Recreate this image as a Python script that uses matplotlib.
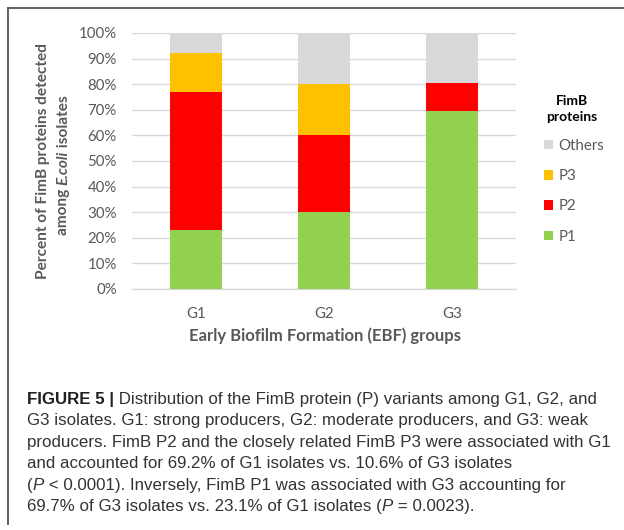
import matplotlib
matplotlib.use("Agg")
import matplotlib.pyplot as plt
from matplotlib.lines import Line2D
import numpy as np

# ---------------- data ----------------
groups = ["G1", "G2", "G3"]
p1 = [23.1, 30.0, 69.7]
p2 = [53.8, 30.0, 10.6]
p3 = [15.4, 20.0, 0.0]
others = [7.7, 20.0, 19.7]
series_names = ["P1", "P2", "P3", "Others"]
series_colors = ["#92d050", "#ff0000", "#ffc000", "#d9d9d9"]
yticks = [0, 10, 20, 30, 40, 50, 60, 70, 80, 90, 100]

W, H = 624, 530
fig = plt.figure(figsize=(W / 100, H / 100), dpi=100)
fig.patch.set_facecolor("white")

chart_font = ["Lato", "DejaVu Sans"]
grey = "#595959"
renderer = fig.canvas.get_renderer()

ax = fig.add_axes([132 / W, 1 - 289 / H, 384 / W, 256 / H])
x = np.arange(len(groups))
bottom = np.zeros(len(groups))
handles = []
for vals, name, col in zip([p1, p2, p3, others], series_names, series_colors):
    b = ax.bar(x, vals, 0.40, bottom=bottom, color=col, label=name, zorder=3)
    handles.append(b)
    bottom += np.array(vals)

ax.set_xlim(-0.5, 2.5)
ax.set_ylim(0, 100)
ax.set_yticks(yticks)
ax.set_yticklabels([f"{t}%" for t in yticks], family=chart_font, fontsize=10.8, color=grey)
ax.set_xticks(x)
ax.set_xticklabels(groups, family=chart_font, fontsize=10.8, color=grey)
ax.tick_params(axis="both", length=0)
ax.tick_params(axis="y", pad=11)
ax.tick_params(axis="x", pad=13)
ax.grid(axis="y", color="#d9d9d9", linewidth=1.0, zorder=0)
for s in ["left", "right", "top"]:
    ax.spines[s].set_visible(False)
ax.spines["bottom"].set_color("#d9d9d9")
ax.spines["bottom"].set_linewidth(1.0)

# axis labels
fig.text(325 / W, 1 - 336 / H, "Early Biofilm Formation (EBF) groups",
         family=chart_font, fontsize=12, fontweight="bold", color=grey,
         ha="center", va="center")

fig.text(43 / W, 1 - 161 / H, "Percent of FimB proteins detected",
         family=chart_font, fontsize=11.1, fontweight="bold", color=grey,
         rotation=90, ha="center", va="center")

# second y-label line built from runs (italic species name)
runs2 = [("among ", "normal"), ("E.coli", "italic"), (" isolates", "normal")]
objs = []
for txt, st in runs2:
    t = fig.text(0, 0, txt, family=chart_font, fontsize=11.1, fontweight="bold",
                 style=st, color=grey, rotation=90, ha="left", va="baseline",
                 rotation_mode="anchor")
    objs.append(t)
heights = [t.get_window_extent(renderer=renderer).height for t in objs]
total = sum(heights)
ypos = 165 + total / 2  # pixel from top, start at bottom
xline = 67.5
for t, h in zip(objs, heights):
    t.set_position((xline / W, 1 - ypos / H))
    ypos -= h

# legend
fig.text(572 / W, 1 - 109 / H, "FimB\nproteins", family=chart_font, fontsize=10,
         fontweight="bold", color="black", ha="center", va="center", linespacing=1.4)
leg = ax.legend(handles[::-1], series_names[::-1], loc="upper left",
                bbox_to_anchor=(544 / W, 1 - 139 / H), bbox_transform=fig.transFigure,
                frameon=False, prop={"family": chart_font, "size": 10.8},
                handlelength=0.6, handleheight=0.6, handletextpad=0.35,
                labelspacing=1.08, borderpad=0, borderaxespad=0)
for t in leg.get_texts():
    t.set_color(grey)

# frame lines (top and left)
fig.add_artist(Line2D([8 / W, 8 / W], [1 - 8 / H, 1 - 524 / H], transform=fig.transFigure,
                      color="#555555", linewidth=1.3))
fig.add_artist(Line2D([8 / W, 1.0], [1 - 8 / H, 1 - 8 / H], transform=fig.transFigure,
                      color="#555555", linewidth=1.3))

# caption
cap_font = ["Liberation Sans", "DejaVu Sans"]
cap_size = 12.2
lines = [
    [("FIGURE 5 |", "bold", "normal", "#231f20"),
     (" Distribution of the FimB protein (P) variants among G1, G2, and", "normal", "normal", "#333333")],
    [("G3 isolates. G1: strong producers, G2: moderate producers, and G3: weak", "normal", "normal", "#333333")],
    [("producers. FimB P2 and the closely related FimB P3 were associated with G1", "normal", "normal", "#333333")],
    [("and accounted for 69.2% of G1 isolates vs. 10.6% of G3 isolates", "normal", "normal", "#333333")],
    [("(", "normal", "normal", "#333333"), ("P", "normal", "italic", "#333333"),
     (" < 0.0001). Inversely, FimB P1 was associated with G3 accounting for", "normal", "normal", "#333333")],
    [("69.7% of G3 isolates vs. 23.1% of G1 isolates (", "normal", "normal", "#333333"),
     ("P", "normal", "italic", "#333333"), (" = 0.0023).", "normal", "normal", "#333333")],
]
y0 = 398
dy = 21.4
for i, runs in enumerate(lines):
    xpix = 27
    ypix = y0 + i * dy
    for text, wt, st, col in runs:
        t = fig.text(xpix / W, 1 - ypix / H, text, family=cap_font, fontsize=cap_size,
                     fontweight=wt, style=st, color=col, ha="left", va="center_baseline")
        bb = t.get_window_extent(renderer=renderer)
        xpix += bb.width

fig.savefig("out.png", dpi=100, facecolor="white")
